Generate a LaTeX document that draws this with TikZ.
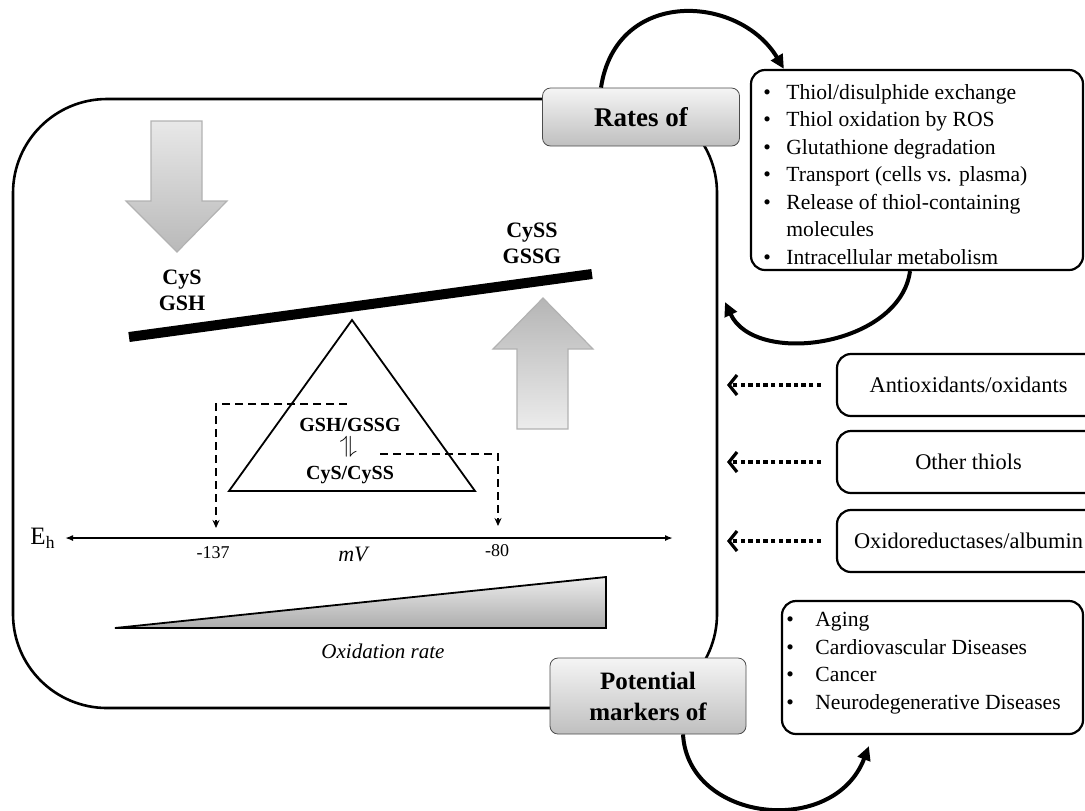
\documentclass[tikz,border=0pt]{standalone}
\usepackage{fontspec}
\setmainfont{Liberation Serif}
\usetikzlibrary{arrows.meta}

\begin{document}
\begin{tikzpicture}[x=0.5pt,y=-0.5pt,
    graybox/.style={draw=gray!60!black, rounded corners=4pt, top color=gray!8, bottom color=gray!50, align=center, inner sep=0pt},
    listbox/.style={draw, line width=1.1pt, rounded corners=7pt, inner sep=0pt},
    sidebox/.style={draw, line width=1.1pt, rounded corners=7pt, minimum width=131.5pt, minimum height=31pt, font=\fontsize{11.2}{13}\selectfont},
    listtext/.style={align=left, anchor=north west, inner sep=0pt, font=\fontsize{10.8}{13.75}\selectfont},
    bigarrow/.style={line width=2pt, -{Triangle[length=7pt,width=6.5pt]}},
    dotarrow/.style={line width=1.6pt, dash pattern=on 2.2pt off 1.6pt, -{Straight Barb[length=4pt,width=10pt]}},
    dasharrow/.style={line width=0.7pt, dash pattern=on 4pt off 2.5pt, -{Stealth[length=4pt,width=3.5pt]}},
    block/.style={draw=gray!60, line width=0.6pt},
    lbl/.style={font=\fontsize{11}{13}\selectfont\bfseries, align=center}]

\clip (0,0) rectangle (1085,810);

% outer compartment
\draw[line width=1.3pt, rounded corners=47pt] (13,99) rectangle (717,708);

% block arrows (reduced in, oxidized out)
\shadedraw[block, top color=gray!18, bottom color=gray!55] (151,121) -- (202,121) -- (202,201) -- (227,201) -- (177,252) -- (126,201) -- (151,201) -- cycle;
\shadedraw[block, top color=gray!58, bottom color=gray!15] (543,298) -- (593,349) -- (568,349) -- (568,429) -- (517,429) -- (517,349) -- (493,349) -- cycle;

\node[lbl] (red) at (182,290) {CyS\\GSH};
\node[lbl] (ox) at (532,243) {CySS\\GSSG};

% balance
\draw[line width=5pt] (129,337) -- (592,274);
\draw[line width=0.9pt] (352,320) -- (475,491) -- (229,491) -- cycle;
\node[font=\fontsize{10}{12}\selectfont\bfseries] (gsh) at (350,425) {GSH/GSSG};
\node[font=\fontsize{11.5}{12}\selectfont, rotate=90] (eq) at (350,447) {$\rightleftharpoons$};
\node[font=\fontsize{10}{12}\selectfont\bfseries] (cys) at (350,475) {CyS/CySS};

% Eh scale
\coordinate (lo) at (65,538);
\coordinate (hi) at (673,538);
\draw[line width=0.8pt, {Latex[length=4pt,width=3pt]}-{Latex[length=4pt,width=3pt]}] (lo) -- (hi);
\node[font=\fontsize{12.5}{13}\selectfont] (eh) at (43,538) {E\textsubscript{h}};
\node[font=\fontsize{9}{10}\selectfont] (v137) at (213,553) {-137};
\node[font=\fontsize{9}{10}\selectfont] (v80) at (497,551) {-80};
\node[font=\fontsize{11}{13}\selectfont\itshape] (mv) at (353,554) {mV};

\coordinate (s137) at (347,404);
\coordinate (t137) at (216,528);
\coordinate (s80) at (380,454);
\coordinate (t80) at (498,526);
\draw[dasharrow] (s137) -| (t137);
\draw[dasharrow] (s80) -| (t80);

% oxidation wedge
\shadedraw[draw=black, line width=0.9pt, top color=gray!15, bottom color=gray!65] (115,628) -- (606,628) -- (606,577) -- cycle;
\node[font=\fontsize{10.5}{12}\selectfont\itshape] (oxr) at (383,651) {Oxidation rate};

% gray headers
\node[graybox, minimum width=98.5pt, minimum height=29pt, font=\fontsize{13.5}{15}\selectfont\bfseries] (rates) at (641,117) {Rates of};
\node[graybox, minimum width=98pt, minimum height=38pt, font=\fontsize{12.5}{15.5}\selectfont\bfseries] (markers) at (648,696) {Potential\\markers of};

% lists
\node[listbox, minimum width=166pt, minimum height=100pt] (procs) at (917,170) {};
\node[listtext] (procstext) at (763,84) {%
  \makebox[11.5pt][l]{\textbullet}Thiol/disulphide exchange\\
  \makebox[11.5pt][l]{\textbullet}Thiol oxidation by ROS\\
  \makebox[11.5pt][l]{\textbullet}Glutathione degradation\\
  \makebox[11.5pt][l]{\textbullet}Transport (cells vs. plasma)\\
  \makebox[11.5pt][l]{\textbullet}Release of thiol-containing\\
  \makebox[11.5pt][l]{}molecules\\
  \makebox[11.5pt][l]{\textbullet}Intracellular metabolism};

\node[listbox, minimum width=150.5pt, minimum height=66.5pt] (diseases) at (932.5,667.5) {};
\node[listtext] (diseasestext) at (786,612) {%
  \makebox[14.5pt][l]{\textbullet}Aging\\
  \makebox[14.5pt][l]{\textbullet}Cardiovascular Diseases\\
  \makebox[14.5pt][l]{\textbullet}Cancer\\
  \makebox[14.5pt][l]{\textbullet}Neurodegenerative Diseases};

% modulators
\node[sidebox] (antiox) at (968.5,385) {Antioxidants/oxidants};
\node[sidebox] (thiols) at (968.5,462) {Other thiols};
\node[sidebox] (oxred) at (968.5,541) {Oxidoreductases/albumin};

\coordinate (antiox-in) at (727,385);
\coordinate (thiols-in) at (727,462);
\coordinate (oxred-in) at (727,541);
\draw[dotarrow] ([xshift=-7.5pt]antiox.west) -- (antiox-in);
\draw[dotarrow] ([xshift=-7.5pt]thiols.west) -- (thiols-in);
\draw[dotarrow] ([xshift=-7.5pt]oxred.west) -- (oxred-in);

% curved links
\coordinate (back) at (725,302);
\draw[bigarrow] ([xshift=-20pt]rates.north) .. controls +(15,-100) and +(-45,-75) .. ([xshift=17pt]procs.north west);
\draw[bigarrow] ([xshift=-3.5pt]procs.south) .. controls +(-10,75) and +(30,65) .. (back);
\draw[bigarrow] ([xshift=17.5pt]markers.south) .. controls +(5,88) and +(-35,92) .. ([shift={(44pt,-5.5pt)}]diseases.south west);

\end{tikzpicture}
\end{document}
